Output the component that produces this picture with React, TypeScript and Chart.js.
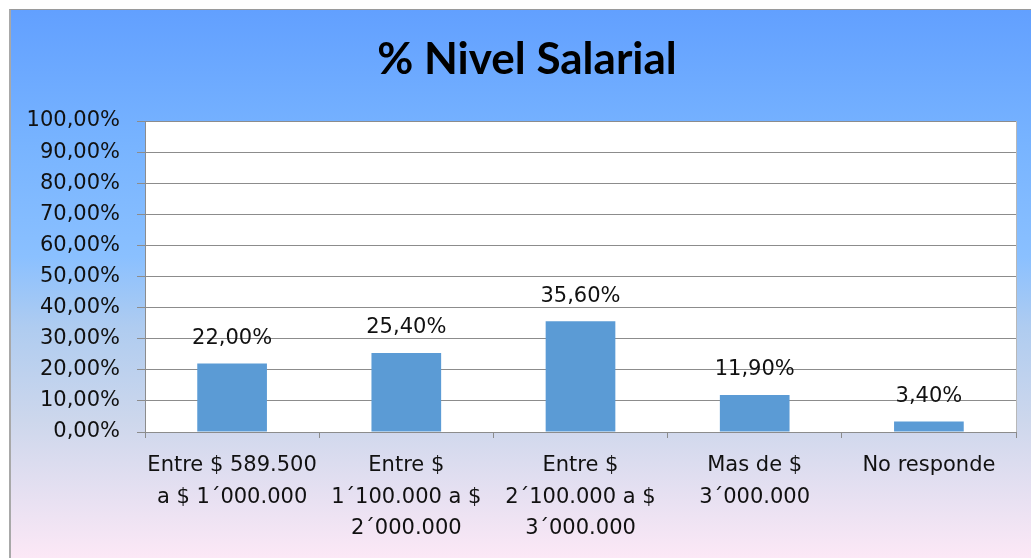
import React, { useEffect, useRef } from "react";
import { Chart, registerables } from "chart.js";

Chart.register(...registerables);

const categories: string[][] = [
  ["Entre $ 589.500", "a $ 1´000.000"],
  ["Entre $", "1´100.000 a $", "2´000.000"],
  ["Entre $", "2´100.000 a $", "3´000.000"],
  ["Mas de $", "3´000.000"],
  ["No responde"],
];
const values: number[] = [22.0, 25.4, 35.6, 11.9, 3.4];
const titleText = "% Nivel Salarial";

const fmt = (v: number) => v.toFixed(2).replace(".", ",") + "%";

const FONT = "'DejaVu Sans', sans-serif";

export default function App() {
  const ref = useRef<HTMLCanvasElement | null>(null);

  useEffect(() => {
    if (!ref.current) return;
    const areaPlugin = {
      id: "areaBg",
      beforeDraw(chart: any) {
        const { ctx, chartArea } = chart;
        ctx.save();
        ctx.fillStyle = "#ffffff";
        ctx.fillRect(chartArea.left, chartArea.top, chartArea.right - chartArea.left, chartArea.bottom - chartArea.top);
        // title
        ctx.fillStyle = "#000000";
        ctx.font = "bold 44px Lato, sans-serif";
        ctx.textAlign = "center";
        ctx.textBaseline = "middle";
        ctx.fillText(titleText, 516, 50);
        ctx.restore();
      },
      afterDraw(chart: any) {
        const { ctx, chartArea } = chart;
        ctx.save();
        ctx.strokeStyle = "#b8b8b8";
        ctx.lineWidth = 1;
        ctx.beginPath();
        ctx.moveTo(Math.round(chartArea.right) + 0.5, chartArea.top);
        ctx.lineTo(Math.round(chartArea.right) + 0.5, chartArea.bottom);
        ctx.stroke();
        // data labels
        const meta = chart.getDatasetMeta(0);
        ctx.fillStyle = "#111111";
        ctx.font = `21px ${FONT}`;
        ctx.textAlign = "center";
        ctx.textBaseline = "middle";
        meta.data.forEach((bar: any, i: number) => {
          ctx.fillText(fmt(values[i]), bar.x, bar.y - 25);
        });
        ctx.restore();
      },
    };

    const chart = new Chart(ref.current, {
      type: "bar",
      data: {
        labels: categories,
        datasets: [
          {
            data: values,
            backgroundColor: "#5b9bd5",
            borderWidth: 0,
            barPercentage: 0.4,
            categoryPercentage: 1,
          },
        ],
      },
      options: {
        animation: false,
        responsive: false,
        layout: { padding: { left: 0, right: 15, top: 111, bottom: 0 } },
        plugins: {
          legend: { display: false },
          tooltip: { enabled: false },
          title: { display: false },
        },
        scales: {
          x: {
            grid: {
              display: true,
              drawOnChartArea: false,
              drawTicks: true,
              tickLength: 6,
              color: "#8c8c8c",
              offset: true,
            },
            border: { display: true, color: "#8c8c8c" },
            ticks: {
              color: "#111111",
              font: { family: FONT, size: 21, lineHeight: 1.5 },
              padding: 12,
              maxRotation: 0,
              autoSkip: false,
            },
            afterFit(scale: any) {
              scale.height = 126;
            },
          },
          y: {
            min: 0,
            max: 100,
            grid: { color: "#8c8c8c", tickLength: 8, drawTicks: true },
            border: { display: true, color: "#8c8c8c" },
            ticks: {
              stepSize: 10,
              color: "#111111",
              font: { family: FONT, size: 21 },
              padding: 17,
              callback: (v: any) => fmt(Number(v)),
            },
            afterFit(scale: any) {
              scale.width = 134;
            },
          },
        },
      },
      plugins: [areaPlugin],
    } as any);
    return () => chart.destroy();
  }, []);

  return (
    <div
      style={{
        position: "absolute",
        left: 9,
        top: 9,
        width: 1020,
        height: 548,
        borderTop: "1px solid #9a9a9a",
        borderLeft: "2px solid #a8a8a8",
        background:
          "linear-gradient(to bottom, rgb(98,160,255) 0%, rgb(120,180,255) 25%, rgb(138,192,255) 45%, rgb(175,204,240) 58%, rgb(205,215,236) 75%, rgb(252,232,246) 100%)",
        overflow: "hidden",
      }}
    >
      <canvas ref={ref} width={1020} height={548} style={{ display: "block" }} />
    </div>
  );
}
